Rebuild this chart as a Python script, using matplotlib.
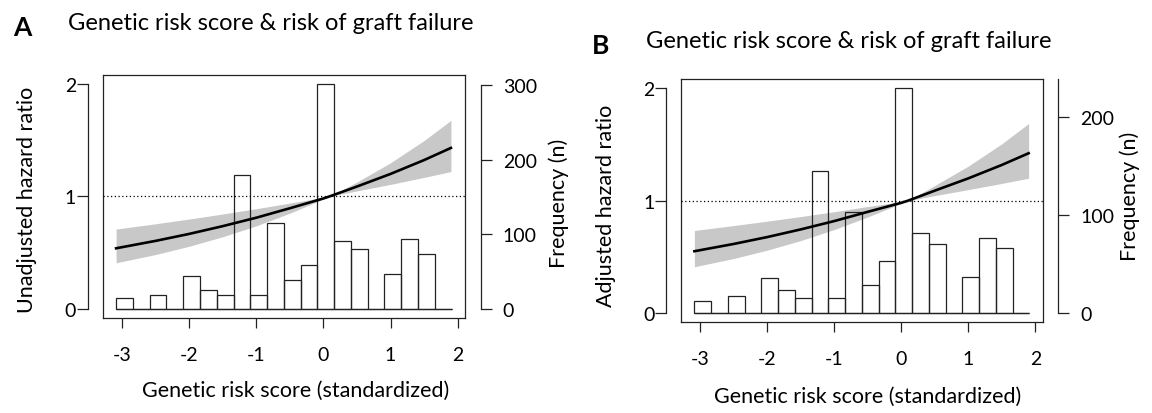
import matplotlib
matplotlib.use("Agg")
import matplotlib.pyplot as plt
import numpy as np

plt.rcParams['font.family'] = ['Lato', 'DejaVu Sans']
plt.rcParams['axes.unicode_minus'] = False

W, H = 1152, 414

# histogram of the standardized genetic risk score (shared bins)
bin_edges = [-3.09, -2.84, -2.59, -2.34, -2.09, -1.84, -1.59, -1.34, -1.09, -0.84, -0.59,
             -0.34, -0.09, 0.16, 0.41, 0.66, 0.91, 1.16, 1.41, 1.66, 1.91]
counts_a = [14, 0, 19, 0, 44, 25, 19, 179, 19, 115, 38, 59, 302, 91, 80, 0, 47, 93, 74, 0]
counts_b = [13, 0, 18, 0, 36, 24, 16, 145, 16, 103, 29, 53, 229, 82, 70, 0, 37, 77, 66, 0]

# hazard ratio curves with 95% CI band
grs = [-3.09, -2.5, -2.0, -1.5, -1.0, -0.5, 0.0, 0.1, 0.5, 1.0, 1.5, 1.9]
hr_a = [0.537, 0.603, 0.665, 0.734, 0.809, 0.893, 0.980, 1.0, 1.086, 1.198, 1.321, 1.429]
lo_a = [0.408, 0.482, 0.555, 0.640, 0.737, 0.849, 0.975, 1.0, 1.047, 1.105, 1.167, 1.219]
hi_a = [0.708, 0.755, 0.797, 0.842, 0.889, 0.939, 0.989, 1.0, 1.126, 1.297, 1.495, 1.674]

hr_b = [0.551, 0.616, 0.677, 0.745, 0.819, 0.901, 0.981, 1.0, 1.089, 1.198, 1.317, 1.421]
lo_b = [0.413, 0.487, 0.561, 0.646, 0.744, 0.856, 0.976, 1.0, 1.045, 1.098, 1.153, 1.199]
hi_b = [0.735, 0.779, 0.818, 0.859, 0.902, 0.948, 0.990, 1.0, 1.135, 1.307, 1.505, 1.685]

x_ticks = [-3, -2, -1, 0, 1, 2]
hr_ticks = [0, 1, 2]
freq_ticks_a = [0, 100, 200, 300]
freq_ticks_b = [0, 100, 200]

title = "Genetic risk score & risk of graft failure"
xlabel = "Genetic risk score (standardized)"

TICK_FS = 14
LABEL_FS = 15.5
TITLE_FS = 17


def px(x, y):
    return x / W, 1 - y / H


def panel(fig, box, counts, hr, lo, hi, freq_ticks, freq_top):
    # box = (left, top, right, bottom) in pixels
    l, t, r, b = box
    ax = fig.add_axes([l / W, 1 - b / H, (r - l) / W, (b - t) / H])
    span = bin_edges[-1] - bin_edges[0]
    ax.set_xlim(bin_edges[0] - 0.04 * span, bin_edges[-1] + 0.04 * span)
    ax.set_ylim(-0.08, 2.08)

    ax2 = ax.twinx()
    scale = max(counts) / 2
    ax2.set_ylim(-0.08 * scale, 2.08 * scale)

    ax.fill_between(grs, lo, hi, color='#c8c8c8', lw=0, zorder=1)
    ax.bar(bin_edges[:-1], counts, width=np.diff(bin_edges), align='edge',
           facecolor='none', edgecolor='#222222', lw=0.9, zorder=2,
           transform=ax2.transData)
    ax.hlines(0, bin_edges[0], bin_edges[-1], color='#222222', lw=0.9, zorder=2)
    ax.plot(grs, hr, color='black', lw=1.9, zorder=3)
    ax.axhline(1, color='black', lw=0.9, ls=(0, (1, 2)), zorder=4)

    # box
    for s in ['top', 'right', 'bottom']:
        ax.spines[s].set_linewidth(0.9)
        ax.spines[s].set_color('#222222')
    ax.plot([0, 0], [0, 1], transform=ax.transAxes, color='#222222', lw=0.9, clip_on=False)

    ax.spines['left'].set_position(('outward', 10.8))
    ax.spines['left'].set_bounds(0, 2)
    ax.spines['left'].set_linewidth(0.9)
    ax.spines['left'].set_color('#222222')
    ax.set_yticks(hr_ticks)
    ax.tick_params(axis='y', length=7.9, width=0.9, pad=0.5, labelsize=TICK_FS, color='#222222')
    ax.set_xticks(x_ticks)
    ax.tick_params(axis='x', length=7.2, width=0.9, pad=13, labelsize=TICK_FS, color='#222222')

    for s in ['top', 'bottom', 'left']:
        ax2.spines[s].set_visible(False)
    ax2.spines['right'].set_position(('outward', 11.3))
    ax2.spines['right'].set_bounds(0, freq_top)
    ax2.spines['right'].set_linewidth(0.9)
    ax2.spines['right'].set_color('#222222')
    ax2.set_yticks(freq_ticks)
    ax2.tick_params(axis='y', length=7.9, width=0.9, pad=8, labelsize=TICK_FS, color='#222222')
    return ax


fig = plt.figure(figsize=(W / 100, H / 100), dpi=100)

panel(fig, (102.7, 75.7, 465, 318.7), counts_a, hr_a, lo_a, hi_a, freq_ticks_a, 300)
panel(fig, (681, 80, 1042.7, 323.3), counts_b, hr_b, lo_b, hi_b, freq_ticks_b, 238)

# panel letters and titles
fig.text(*px(13, 36), "A", fontsize=19, fontweight='bold', ha='left', va='baseline')
fig.text(*px(68, 29.5), title, fontsize=TITLE_FS, ha='left', va='baseline')
fig.text(*px(592, 54.5), "B", fontsize=19, fontweight='bold', ha='left', va='baseline')
fig.text(*px(646, 48), title, fontsize=TITLE_FS, ha='left', va='baseline')

# axis labels
fig.text(*px(27, 200), "Unadjusted hazard ratio", fontsize=LABEL_FS, rotation=90, ha='center', va='center')
fig.text(*px(559, 203), "Frequency (n)", fontsize=LABEL_FS, rotation=90, ha='center', va='center')
fig.text(*px(296, 397), xlabel, fontsize=LABEL_FS, ha='center', va='baseline')

fig.text(*px(606, 206), "Adjusted hazard ratio", fontsize=LABEL_FS, rotation=90, ha='center', va='center')
fig.text(*px(1130, 196), "Frequency (n)", fontsize=LABEL_FS, rotation=90, ha='center', va='center')
fig.text(*px(868, 402.5), xlabel, fontsize=LABEL_FS, ha='center', va='baseline')

fig.savefig("out.png", dpi=100)
